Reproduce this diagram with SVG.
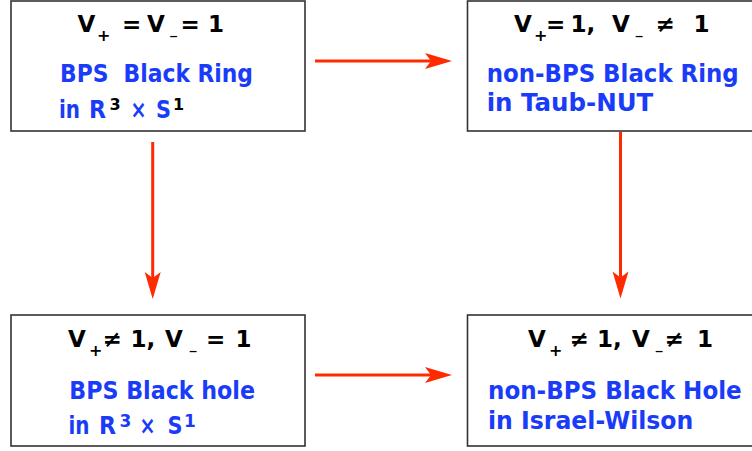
<svg xmlns="http://www.w3.org/2000/svg" width="752" height="451" viewBox="0 0 752 451">
<style>
.box{fill:#fff;stroke:#333;stroke-width:1.6}
.k{font-family:"DejaVu Sans",sans-serif;font-weight:bold;font-size:23px;fill:#000}
.sp{font-size:16px}
.sm{font-size:11px}
.b{font-family:"DejaVu Sans",sans-serif;font-weight:bold;font-size:24px;fill:#1a3cf8}
.sup{font-size:16px;fill:#000}
.supb{font-size:17px;fill:#1a3cf8}
.arr{stroke:#ff2a00;stroke-width:3;fill:none}
.head{fill:#ff2a00}
</style>
<defs>
<marker id="ah" markerUnits="userSpaceOnUse" markerWidth="40" markerHeight="30" viewBox="-30 -15 40 30" refX="-21" refY="0" orient="auto">
<path class="head" d="M0,0 L-27,-8 L-21,0 L-27,8 Z"/>
</marker>
</defs>
<g id="connectors">
<line class="arr" x1="315" y1="61" x2="431" y2="61" marker-end="url(#ah)"/>
<line class="arr" x1="315" y1="375" x2="431" y2="375" marker-end="url(#ah)"/>
<line class="arr" x1="152.7" y1="142" x2="152.7" y2="278" marker-end="url(#ah)"/>
<line class="arr" x1="620.5" y1="132" x2="620.5" y2="277.5" marker-end="url(#ah)"/>
</g>
<g id="node-bps-ring">
<rect class="box" x="11" y="1" width="294" height="130"/>
<text class="k" y="31.5"><tspan x="77.5">V</tspan><tspan class="sp" x="97" y="40.5">+</tspan><tspan x="122" y="31.5">=</tspan><tspan x="147">V</tspan><tspan class="sm" x="169" y="39.5">−</tspan><tspan x="180.5" y="31.5">=</tspan><tspan x="208">1</tspan></text>
<text class="b" x="60" y="82" textLength="193" lengthAdjust="spacingAndGlyphs" xml:space="preserve">BPS  Black Ring</text>
<text class="b" y="118" textLength="0"><tspan x="59" textLength="21" lengthAdjust="spacingAndGlyphs">in</tspan><tspan x="89" textLength="17" lengthAdjust="spacingAndGlyphs">R</tspan><tspan class="sup" x="109.5" y="110">3</tspan><tspan x="130.5" y="118" textLength="16" lengthAdjust="spacingAndGlyphs">×</tspan><tspan x="156" textLength="15" lengthAdjust="spacingAndGlyphs">S</tspan><tspan class="sup" x="173" y="110">1</tspan></text>
</g>
<g id="node-nonbps-ring">
<rect class="box" x="467.5" y="1" width="290" height="130"/>
<text class="k" y="31.5"><tspan x="514">V</tspan><tspan class="sp" x="534" y="40.5">+</tspan><tspan x="546" y="31.5">=</tspan><tspan x="570.5">1,</tspan><tspan x="612">V</tspan><tspan class="sm" x="634.5" y="39.5">−</tspan><tspan x="655.5" y="31.5">≠</tspan><tspan x="693.5">1</tspan></text>
<text class="b" x="486.7" y="82" textLength="252" lengthAdjust="spacingAndGlyphs">non-BPS Black Ring</text>
<text class="b" x="486.7" y="110.5" textLength="166.6" lengthAdjust="spacingAndGlyphs">in Taub-NUT</text>
</g>
<g id="node-bps-hole">
<rect class="box" x="11" y="315" width="294" height="131"/>
<text class="k" y="346.7"><tspan x="68">V</tspan><tspan class="sp" x="89" y="355.5">+</tspan><tspan x="102.5" y="346.7">≠</tspan><tspan x="130.5">1,</tspan><tspan x="165">V</tspan><tspan class="sm" x="188.5" y="354.5">−</tspan><tspan x="206" y="346.7">=</tspan><tspan x="235.5">1</tspan></text>
<text class="b" x="69.3" y="398.5" textLength="185.7" lengthAdjust="spacingAndGlyphs">BPS Black hole</text>
<text class="b" y="433.5"><tspan x="68.5" textLength="21" lengthAdjust="spacingAndGlyphs">in</tspan><tspan x="99" textLength="17" lengthAdjust="spacingAndGlyphs">R</tspan><tspan class="supb" x="119.5" y="426.5">3</tspan><tspan x="139.5" y="433.5" textLength="16" lengthAdjust="spacingAndGlyphs">×</tspan><tspan x="167.5" textLength="15" lengthAdjust="spacingAndGlyphs">S</tspan><tspan class="supb" x="184" y="426.5">1</tspan></text>
</g>
<g id="node-nonbps-hole">
<rect class="box" x="467.5" y="315" width="290" height="131"/>
<text class="k" y="346.7"><tspan x="528">V</tspan><tspan class="sp" x="549" y="355.5">+</tspan><tspan x="569.5" y="346.7">≠</tspan><tspan x="597">1,</tspan><tspan x="632">V</tspan><tspan class="sm" x="654.5" y="354.5">−</tspan><tspan x="664.5" y="346.7">≠</tspan><tspan x="697">1</tspan></text>
<text class="b" x="488" y="398.5" textLength="253.7" lengthAdjust="spacingAndGlyphs">non-BPS Black Hole</text>
<text class="b" x="488" y="428.5" textLength="205.3" lengthAdjust="spacingAndGlyphs">in Israel-Wilson</text>
</g>
</svg>
